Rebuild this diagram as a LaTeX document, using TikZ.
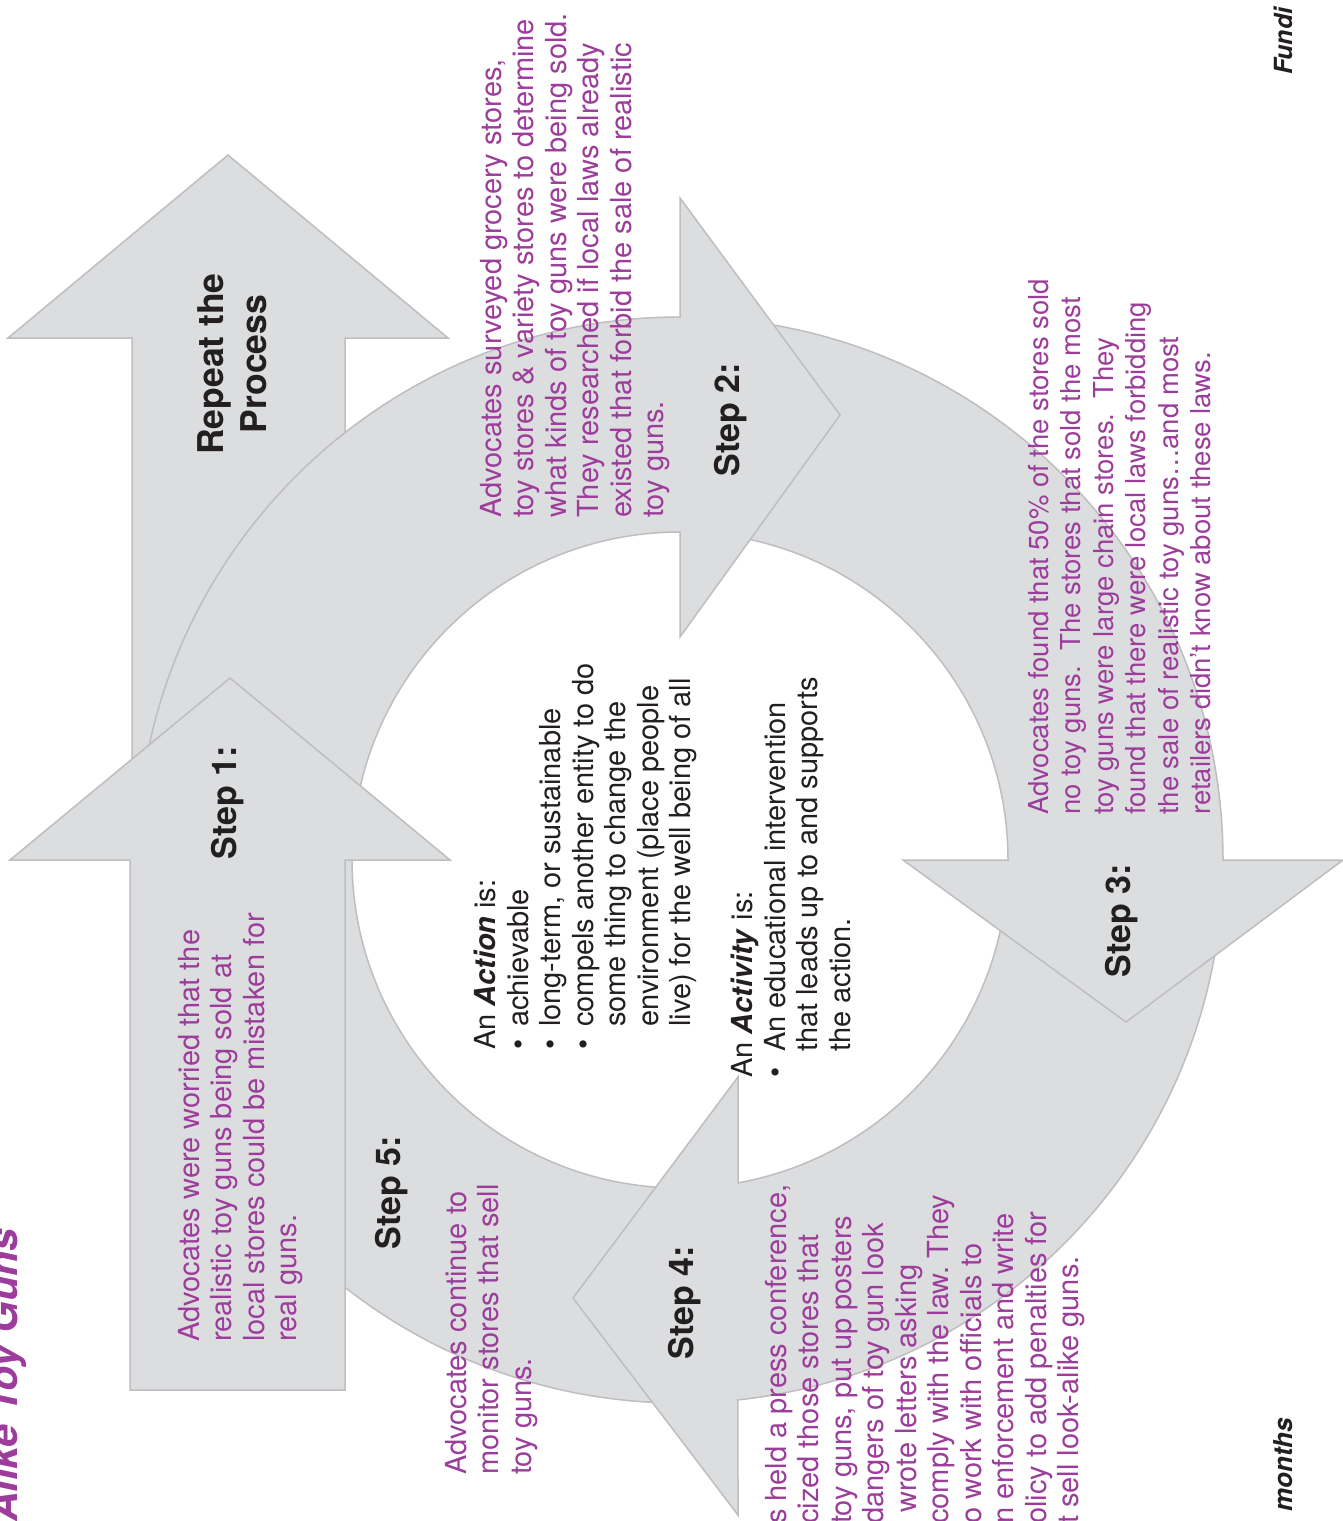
\documentclass[tikz,border=0pt]{standalone}
\usepackage{fontspec}
\setmainfont{TeX Gyre Heros}
\definecolor{ringfill}{RGB}{220,221,223}
\definecolor{ringline}{RGB}{190,190,192}
\definecolor{advpurple}{RGB}{157,61,155}
\definecolor{inkblack}{RGB}{35,31,32}
\frenchspacing
\begin{document}
\begin{tikzpicture}[x=1pt,y=1pt,
  arrowshape/.style={fill=ringfill, draw=ringline, line width=1.5pt, line join=miter},
  ptext/.style={rotate=90, anchor=north west, inner sep=0pt, align=left, text=advpurple, font=\fontsize{29}{32.5}\selectfont},
  ctext/.style={rotate=90, anchor=north west, inner sep=0pt, align=left, text=inkblack, font=\fontsize{29}{32.5}\selectfont},
  steplabel/.style={rotate=90, inner sep=0pt, text=inkblack, font=\fontsize{34}{40}\selectfont\bfseries},
  edgetext/.style={rotate=90, anchor=base west, inner sep=0pt, font=\bfseries\itshape}
]
\useasboundingbox (0,0) rectangle (1343,-1521);
\fill[white] (0,0) rectangle (1343,-1521);
\coordinate (C) at (680,-860);

% Repeat the process arrow
\path[arrowshape] (132,-1000) -- (132,-338) -- (8,-338) -- (228,-155) -- (448,-338) -- (345,-338) -- (345,-1000) -- cycle;

% ring segment D (step 5)
\path[arrowshape] ([shift={(270:543)}]C) arc[start angle=270, end angle=178, radius=543]
  -- ([shift={(178:328)}]C) arc[start angle=178, end angle=270, radius=328] -- cycle;

% ring segment C (to step 4)
\path[arrowshape] ([shift={(-2:543)}]C) arc[start angle=-2, end angle=-83.87, radius=543]
  -- (738,-1515) -- (573,-1298) -- (738,-1077)
  -- ([shift={(-79.81:328)}]C) arc[start angle=-79.81, end angle=-2, radius=328] -- cycle;

% ring segment B (to step 3)
\path[arrowshape] ([shift={(88:543)}]C) arc[start angle=88, end angle=0, radius=543]
  -- (1343,-860) -- (1126,-1022) -- (903,-860)
  -- ([shift={(0:328)}]C) arc[start angle=0, end angle=88, radius=328] -- cycle;

% ring segment A (to step 2)
\path[arrowshape] ([shift={(178:543)}]C) arc[start angle=178, end angle=90, radius=543]
  -- (680,-198) -- (840,-415) -- (680,-637)
  -- ([shift={(90:328)}]C) arc[start angle=90, end angle=178, radius=328] -- cycle;

% Step 1 arrow
\path[arrowshape] (130,-1390) -- (130,-860) -- (10,-860) -- (230,-678) -- (450,-860) -- (345,-860) -- (345,-1390) -- cycle;

% edge texts
\node[edgetext, text=advpurple, font=\fontsize{41}{45}\selectfont\bfseries\itshape] (title) at (17,-1522) {Alike Toy Guns};
\node[edgetext, text=inkblack, font=\fontsize{25}{30}\selectfont\bfseries\itshape] (fund) at (1292,-75) {Fundi};
\node[edgetext, text=inkblack, font=\fontsize{26}{30}\selectfont\bfseries\itshape] (months) at (1292,-1512) {months};

% labels
\node[rotate=90, anchor=north, inner sep=0pt, align=center, text=inkblack, font=\fontsize{35.5}{43}\selectfont\bfseries] (repeat) at (197,-364) {Repeat the\\Process};
\node[steplabel] (s1) at (228,-803) {Step 1:};
\node[steplabel] (s2) at (731,-420) {Step 2:};
\node[steplabel] (s3) at (1122,-921) {Step 3:};
\node[steplabel] (s4) at (685,-1303) {Step 4:};
\node[steplabel] (s5) at (392,-1193) {Step 5:};

% purple texts
\node[ptext] (t1) at (178,-1342) {Advocates were worried that the\\realistic toy guns being sold at\\local stores could be mistaken for\\real guns.};
\node[ptext] (t2) at (480,-518) {Advocates surveyed grocery stores,\\toy stores \& variety stores to determine\\what kinds of toy guns were being sold.\\They researched if local laws already\\existed that forbid the sale of realistic\\toy guns.};
\node[ptext, font=\fontsize{27.5}{32.5}\selectfont] (t3) at (1028,-815) {Advocates found that 50\% of the stores sold\\no toy guns.~ The stores that sold the most\\toy guns were large chain stores.~ They\\found that there were local laws forbidding\\the sale of realistic toy guns…and most\\retailers didn’t know about these laws.};
\node[ptext] (t4) at (765,-1524) {s held a press conference,\\cized those stores that\\toy guns, put up posters\\dangers of toy gun look\\\hspace*{11pt}wrote letters asking\\comply with the law. They\\o work with officials to\\n enforcement and write\\olicy to add penalties for\\t sell look-alike guns.};
\node[ptext] (t5) at (445,-1475) {Advocates continue to\\monitor stores that sell\\toy guns.};

% centre texts
\node[ctext] (action) at (474,-1050) {An \textbf{\textit{Action}} is:\\
\makebox[23pt][l]{\textbullet}achievable\\
\makebox[23pt][l]{\textbullet}long-term, or sustainable\\
\makebox[23pt][l]{\textbullet}compels another entity to do\\
\hspace*{23pt}some thing to change the\\
\hspace*{23pt}environment (place people\\
\hspace*{23pt}live) for the well being of all};
\node[ctext] (activity) at (731,-1078) {An \textbf{\textit{Activity}} is:\\
\makebox[26pt][l]{\textbullet}An educational intervention\\
\hspace*{26pt}that leads up to and supports\\
\hspace*{26pt}the action.};
\end{tikzpicture}
\end{document}
